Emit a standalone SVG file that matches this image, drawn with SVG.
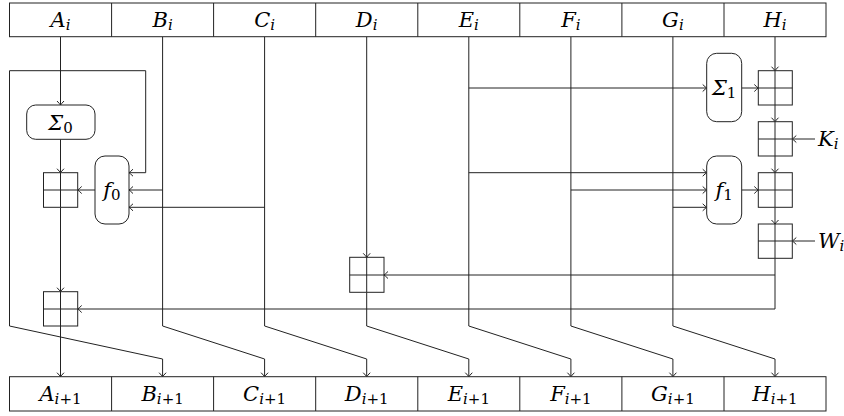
<svg xmlns="http://www.w3.org/2000/svg" width="844" height="416" viewBox="0 0 844 416">
<style>
.ln{fill:none;stroke:#222;stroke-width:1}
.bx{fill:#fff;stroke:#222;stroke-width:1}
</style>
<defs>
<marker id="ar" markerUnits="userSpaceOnUse" viewBox="-6 -5 7 10" refX="0" refY="0" markerWidth="7" markerHeight="10" orient="auto">
<path d="M-4,-3.5 Q-1.2,-0.8 0,0 Q-1.2,0.8 -4,3.5" fill="none" stroke="#222" stroke-width="1"/>
</marker>
</defs>
<rect width="844" height="416" fill="#fff"/>

<g id="connectors" class="ln">
<path d="M60.5,36.7 V105" marker-end="url(#ar)"/>
<path d="M60.5,139.3 V172.7" marker-end="url(#ar)"/>
<path d="M60.5,207.3 V291.7" marker-end="url(#ar)"/>
<path d="M60.5,326 V376.7" marker-end="url(#ar)"/>
<path d="M9.5,326 V70.7 H145.7 V172.7 H129" marker-end="url(#ar)"/>
<path d="M9.5,326 L162.6,359 V376.7" marker-end="url(#ar)"/>
<path d="M162.6,36.7 V326 L264.6,359 V376.7" marker-end="url(#ar)"/>
<path d="M162.6,190 H129" marker-end="url(#ar)"/>
<path d="M264.6,36.7 V326 L366.7,359 V376.7" marker-end="url(#ar)"/>
<path d="M264.6,207.3 H129" marker-end="url(#ar)"/>
<path d="M95,190 H77.7" marker-end="url(#ar)"/>
<path d="M366.7,36.7 V257.3" marker-end="url(#ar)"/>
<path d="M366.7,292.3 V326 L468.8,359 V376.7" marker-end="url(#ar)"/>
<path d="M468.8,36.7 V326 L570.9,359 V376.7" marker-end="url(#ar)"/>
<path d="M468.8,88 H706.7" marker-end="url(#ar)"/>
<path d="M468.8,172.7 H706.7" marker-end="url(#ar)"/>
<path d="M570.9,36.7 V326 L672.9,359 V376.7" marker-end="url(#ar)"/>
<path d="M570.9,190 H706.7" marker-end="url(#ar)"/>
<path d="M672.9,36.7 V326 L775,359 V376.7" marker-end="url(#ar)"/>
<path d="M672.9,207.3 H706.7" marker-end="url(#ar)"/>
<path d="M741.7,88 H758.3" marker-end="url(#ar)"/>
<path d="M741.7,190 H758.3" marker-end="url(#ar)"/>
<path d="M775,36.7 V70.7" marker-end="url(#ar)"/>
<path d="M775,105 V121.7" marker-end="url(#ar)"/>
<path d="M775,156 V172.7" marker-end="url(#ar)"/>
<path d="M775,207.3 V224" marker-end="url(#ar)"/>
<path d="M775,258.3 V309 H77.7" marker-end="url(#ar)"/>
<path d="M775,275 H384" marker-end="url(#ar)"/>
<path d="M815,139 H792.3" marker-end="url(#ar)"/>
<path d="M815,241 H792.3" marker-end="url(#ar)"/>
</g>

<g id="reg-top">
<rect class="bx" x="9.5" y="3" width="816.5" height="33.7"/>
<path class="ln" d="M111.6,3 V36.7 M213.6,3 V36.7 M315.7,3 V36.7 M417.8,3 V36.7 M519.8,3 V36.7 M621.9,3 V36.7 M724,3 V36.7"/>
<g font-family="DejaVu Serif, serif" font-size="21" font-style="italic" text-anchor="middle">
<text x="60.5" y="27">A<tspan font-size="15" dy="3">i</tspan></text>
<text x="162.6" y="27">B<tspan font-size="15" dy="3">i</tspan></text>
<text x="264.6" y="27">C<tspan font-size="15" dy="3">i</tspan></text>
<text x="366.7" y="27">D<tspan font-size="15" dy="3">i</tspan></text>
<text x="468.8" y="27">E<tspan font-size="15" dy="3">i</tspan></text>
<text x="570.9" y="27">F<tspan font-size="15" dy="3">i</tspan></text>
<text x="672.9" y="27">G<tspan font-size="15" dy="3">i</tspan></text>
<text x="775" y="27">H<tspan font-size="15" dy="3">i</tspan></text>
</g>
</g>

<g id="reg-bottom">
<rect class="bx" x="9.5" y="376.7" width="816.5" height="34.3"/>
<path class="ln" d="M111.6,376.7 V411 M213.6,376.7 V411 M315.7,376.7 V411 M417.8,376.7 V411 M519.8,376.7 V411 M621.9,376.7 V411 M724,376.7 V411"/>
<g font-family="DejaVu Serif, serif" font-size="21" font-style="italic" text-anchor="middle">
<text x="60.5" y="400.5">A<tspan font-size="15" dy="3">i</tspan><tspan font-size="15" font-style="normal">+1</tspan></text>
<text x="162.6" y="400.5">B<tspan font-size="15" dy="3">i</tspan><tspan font-size="15" font-style="normal">+1</tspan></text>
<text x="264.6" y="400.5">C<tspan font-size="15" dy="3">i</tspan><tspan font-size="15" font-style="normal">+1</tspan></text>
<text x="366.7" y="400.5">D<tspan font-size="15" dy="3">i</tspan><tspan font-size="15" font-style="normal">+1</tspan></text>
<text x="468.8" y="400.5">E<tspan font-size="15" dy="3">i</tspan><tspan font-size="15" font-style="normal">+1</tspan></text>
<text x="570.9" y="400.5">F<tspan font-size="15" dy="3">i</tspan><tspan font-size="15" font-style="normal">+1</tspan></text>
<text x="672.9" y="400.5">G<tspan font-size="15" dy="3">i</tspan><tspan font-size="15" font-style="normal">+1</tspan></text>
<text x="775" y="400.5">H<tspan font-size="15" dy="3">i</tspan><tspan font-size="15" font-style="normal">+1</tspan></text>
</g>
</g>

<g id="sigma0">
<rect class="bx" x="26.7" y="105" width="68.3" height="34.3" rx="9"/>
<text x="60.5" y="129.5" font-family="DejaVu Serif, serif" font-size="21" font-style="italic" text-anchor="middle">Σ<tspan font-size="15" font-style="normal" dy="3">0</tspan></text>
</g>
<g id="f0">
<rect class="bx" x="95" y="156" width="34" height="68" rx="10"/>
<text x="112" y="196.5" font-family="DejaVu Serif, serif" font-size="21" font-style="italic" text-anchor="middle">f<tspan font-size="15" font-style="normal" dy="3">0</tspan></text>
</g>
<g id="sigma1">
<rect class="bx" x="706.7" y="53.3" width="35" height="68.4" rx="10"/>
<text x="724.2" y="94.5" font-family="DejaVu Serif, serif" font-size="21" font-style="italic" text-anchor="middle">Σ<tspan font-size="15" font-style="normal" dy="3">1</tspan></text>
</g>
<g id="f1">
<rect class="bx" x="706.7" y="156" width="35" height="68" rx="10"/>
<text x="724.2" y="196.5" font-family="DejaVu Serif, serif" font-size="21" font-style="italic" text-anchor="middle">f<tspan font-size="15" font-style="normal" dy="3">1</tspan></text>
</g>

<g id="add-a1"><rect class="bx" x="43.5" y="172.7" width="34.2" height="34.6"/><path class="ln" d="M60.5,172.7 V207.3 M43.5,190 H77.7"/></g>
<g id="add-a2"><rect class="bx" x="43.5" y="291.7" width="34.2" height="34.3"/><path class="ln" d="M60.5,291.7 V326 M43.5,309 H77.7"/></g>
<g id="add-d"><rect class="bx" x="349.7" y="257.3" width="34.3" height="35"/><path class="ln" d="M366.7,257.3 V292.3 M349.7,275 H384"/></g>
<g id="add-h1"><rect class="bx" x="758.3" y="70.7" width="34" height="34.3"/><path class="ln" d="M775,70.7 V105 M758.3,88 H792.3"/></g>
<g id="add-h2"><rect class="bx" x="758.3" y="121.7" width="34" height="34.3"/><path class="ln" d="M775,121.7 V156 M758.3,139 H792.3"/></g>
<g id="add-h3"><rect class="bx" x="758.3" y="172.7" width="34" height="34.6"/><path class="ln" d="M775,172.7 V207.3 M758.3,190 H792.3"/></g>
<g id="add-h4"><rect class="bx" x="758.3" y="224" width="34" height="34.3"/><path class="ln" d="M775,224 V258.3 M758.3,241 H792.3"/></g>

<g id="k-in"><text x="818" y="146" font-family="DejaVu Serif, serif" font-size="21" font-style="italic">K<tspan font-size="15" dy="3">i</tspan></text></g>
<g id="w-in"><text x="818" y="248" font-family="DejaVu Serif, serif" font-size="21" font-style="italic">W<tspan font-size="15" dy="3">i</tspan></text></g>
</svg>
